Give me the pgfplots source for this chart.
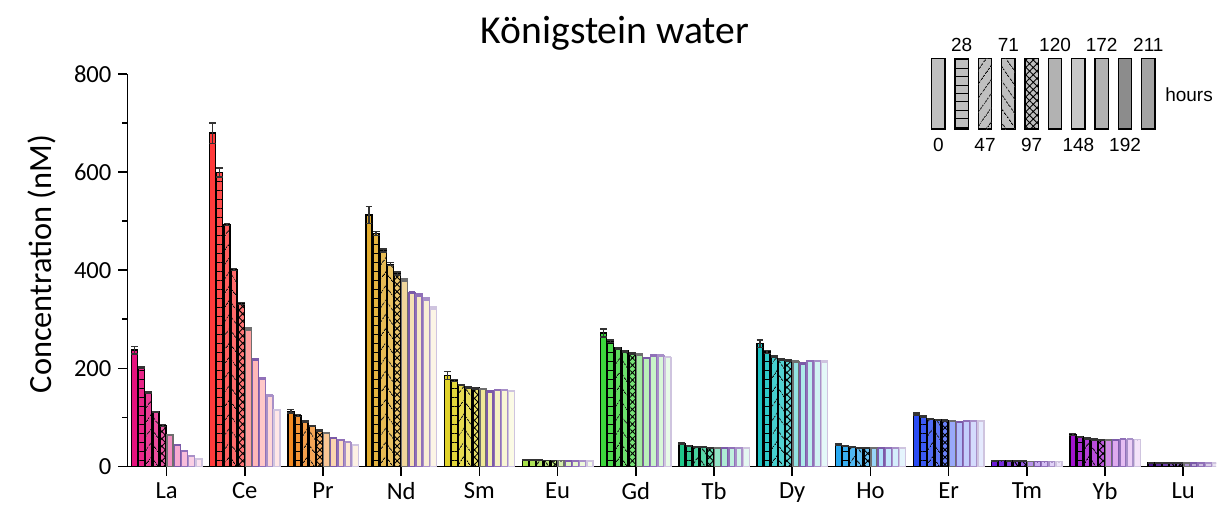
\documentclass[border=0pt]{standalone}
\usepackage{pgfplots}
\pgfplotsset{compat=1.18}
\usepackage{pgfplotstable}
\usetikzlibrary{patterns.meta,calc}
\usepackage{fontspec}
\setmainfont{Carlito}
\newfontfamily\arialfont{Liberation Sans}

% element colours
\definecolor{c0}{HTML}{E6127E}
\definecolor{c1}{HTML}{FF3B3B}
\definecolor{c2}{HTML}{F28A22}
\definecolor{c3}{HTML}{E2AC2E}
\definecolor{c4}{HTML}{E0D229}
\definecolor{c5}{HTML}{A6E04A}
\definecolor{c6}{HTML}{3CD63C}
\definecolor{c7}{HTML}{1FC88A}
\definecolor{c8}{HTML}{1CC4C4}
\definecolor{c9}{HTML}{28A8F0}
\definecolor{c10}{HTML}{2A4CF5}
\definecolor{c11}{HTML}{6A1AD8}
\definecolor{c12}{HTML}{A314D0}
\definecolor{c13}{HTML}{4B1590}
% outlines of the late samples
\definecolor{o5}{HTML}{6E6E6E}
\definecolor{o6}{HTML}{7B5AA8}
\definecolor{o7}{HTML}{9070B8}
\definecolor{o8}{HTML}{A890C8}
\definecolor{o9}{HTML}{CFC4DF}

% columns: element index, value at each sampling time (0,28,47,71,97,120,148,172,192,211 h), errors
\pgfplotstableread{
x  v0    v1    v2    v3    v4    v5    v6    v7    v8    v9    e0  e1  e2  e3  e4  e5  e6  e7  e8  e9
0  237   201   150   111   83.5  64.6  44    31    22    15.6  8   2   1.5 1.5 1.5 1   1   1   1   1
1  679   599   493   401   332   280   218   179   145   115   21  9   2   2   2   2   2   1.5 1   1
2  112.6 104   92    82    73    68    58    54    49.5  44    4   2   1   1   1   1   1   1   1   1
3  512   475   440   412   393   380   355   349.5 341.5 323   17  4   3   3   3   2   2   2   2   2
4  185   175   166   161.5 159.5 157.5 152.7 156   156   153.4 8   2   1.5 1.5 1.5 1   1   1   1   1
5  14    13.5  13    12.5  12    12    11.5  11.5  11.5  11.5  0.5 0.3 0.3 0.3 0.3 0.3 0.3 0.3 0.3 0.3
6  272   255   241   235   229.5 227.5 221   226   226   222.6 8   3   1.5 1.5 1.5 1.5 1.5 1.5 1   1
7  46    42    40    39.5  38    38    37    38    38    38    1.5 1   0.5 0.5 0.5 0.5 0.5 0.5 0.5 0.5
8  250   233.6 224.7 218.6 216.6 213   209   215   214.7 214   8   3   1.5 1.5 1.5 1.5 1.5 1   1   1
9  44    42    40    38.5  38    37.5  37    38    38    38    1.5 1   0.5 0.5 0.5 0.5 0.5 0.5 0.5 0.5
10 107   102.5 97    95    93.7  92.3  91    93    93    93    2   1.5 1   1   1   1   1   1   1   1
11 12    12    11.5  11    11    10.5  10    10    10    10    0.5 0.3 0.3 0.3 0.3 0.3 0.3 0.3 0.3 0.3
12 65    60    57    55    54.3  54    54    55.6  55.6  55    2   1.5 1   1   1   1   0.5 0.5 0.5 0.5
13 8     7.5   7.5   7     7     7     7     7     7     7     0.5 0.3 0.3 0.3 0.3 0.3 0.3 0.3 0.3 0.3
}\data

\pgfplotsset{
  ebar/.style={
    error bars/error bar style={draw=#1, line width=0.7pt},
    error bars/error mark options={rotate=90, mark size=1.7pt, line width=0.7pt, draw=#1}},
  t0/.style={fill=#1, draw=black, ebar=black!80},
  t1/.style={fill=#1!92!white, draw=black, ebar=black!80,
    postaction={pattern={Lines[angle=0,distance=4.5pt,line width=0.5pt]}, pattern color=black}},
  t2/.style={fill=#1!82!white, draw=black, ebar=black!80,
    postaction={pattern={Lines[angle=55,distance=4pt,line width=0.5pt]}, pattern color=black}},
  t3/.style={fill=#1!76!white, draw=black, ebar=black!80,
    postaction={pattern={Lines[angle=-55,distance=4pt,line width=0.5pt]}, pattern color=black}},
  t4/.style={fill=#1!70!white, draw=black, ebar=black!80,
    postaction={pattern={Hatch[angle=45,distance=2.6pt,line width=0.45pt]}, pattern color=black}},
  t5/.style={fill=#1!48!white, draw=o5, ebar=o5},
  t6/.style={fill=#1!36!white, draw=o6, ebar=o6},
  t7/.style={fill=#1!28!white, draw=o7, ebar=o7},
  t8/.style={fill=#1!20!white, draw=o8, ebar=o8},
  t9/.style={fill=#1!12!white, draw=o9, ebar=o9},
}

% one bar: element #1, sampling time #2
\newcommand\onebar[2]{%
  \addplot[t#2=c#1]
    table[x expr=\thisrow{x}+(#2-4.5)*0.0915, y=v#2, y error=e#2,
          restrict expr to domain={\thisrow{x}}{#1:#1}] {\data};
}

\begin{document}
\begin{tikzpicture}
\begin{axis}[
  name=ax,
  scale only axis,
  width=544.25pt, height=196.4pt,
  xmin=-0.5, xmax=13.419, ymin=0, ymax=800,
  axis x line*=bottom, axis y line*=left,
  axis line style={-, line width=0.8pt},
  tick style={line width=0.8pt, black},
  tick align=outside,
  major tick length=4.5pt, minor tick length=2.5pt,
  xtick={0,...,13},
  xticklabels={La,Ce,Pr,Nd,Sm,Eu,Gd,Tb,Dy,Ho,Er,Tm,Yb,Lu},
  ytick={0,200,400,600,800},
  minor ytick={100,300,500,700},
  /pgf/number format/assume math mode=true,
  tick label style={font=\fontsize{12.3}{14}\selectfont},
  title={Königstein water},
  title style={at={(axis description cs:0.4479,1.0459)}, anchor=base,
    font=\fontsize{19.8}{22}\selectfont},
  ylabel={Concentration (nM)},
  ylabel style={at={(axis description cs:-0.0785,0.5155)}, anchor=center,
    font=\fontsize{16.2}{18}\selectfont},
  ybar=0pt, bar width=3pt,
  every axis plot post/.append style={/pgf/bar shift=0pt, line width=0.7pt},
  error bars/y dir=both, error bars/y explicit,
]
\pgfplotsinvokeforeach{0,...,13}{
  \onebar{#1}{0}\onebar{#1}{1}\onebar{#1}{2}\onebar{#1}{3}\onebar{#1}{4}
  \onebar{#1}{5}\onebar{#1}{6}\onebar{#1}{7}\onebar{#1}{8}\onebar{#1}{9}
}
\end{axis}

% inset key of sampling times
\begin{scope}[shift={(ax.south west)}, x=1pt, y=1pt, line width=0.6pt]
  \draw[fill=black!25] (402.1,168.75) rectangle ++(6.67,35.35);
  \draw[fill=black!25, postaction={pattern={Lines[angle=0,distance=4.2pt,line width=0.5pt]}, pattern color=black}]
    (413.77,168.75) rectangle ++(6.67,35.35);
  \draw[fill=black!25, postaction={pattern={Lines[angle=55,distance=4pt,line width=0.45pt]}, pattern color=black}]
    (425.43,168.75) rectangle ++(6.67,35.35);
  \draw[fill=black!25, postaction={pattern={Lines[angle=-55,distance=4pt,line width=0.45pt]}, pattern color=black}]
    (437.1,168.75) rectangle ++(6.67,35.35);
  \draw[fill=black!25, postaction={pattern={Hatch[angle=45,distance=2.6pt,line width=0.45pt]}, pattern color=black}]
    (448.77,168.75) rectangle ++(6.67,35.35);
  \draw[fill=black!30] (460.43,168.75) rectangle ++(6.67,35.35);
  \draw[fill=black!22] (472.1,168.75) rectangle ++(6.67,35.35);
  \draw[fill=black!30] (483.77,168.75) rectangle ++(6.67,35.35);
  \draw[fill=black!45] (495.43,168.75) rectangle ++(6.67,35.35);
  \draw[fill=black!36] (507.1,168.75) rectangle ++(6.67,35.35);
  \begin{scope}[font=\arialfont\fontsize{9.5}{11}\selectfont]
    \node at (417.1,210.75) {28};
    \node at (440.43,210.75) {71};
    \node at (463.77,210.75) {120};
    \node at (487.1,210.75) {172};
    \node at (510.43,210.75) {211};
    \node at (405.43,160.75) {0};
    \node at (428.77,160.75) {47};
    \node at (452.1,160.75) {97};
    \node at (475.43,160.75) {148};
    \node at (498.77,160.75) {192};
    \node at (530.75,185.75) {hours};
  \end{scope}
\end{scope}

\pgfresetboundingbox
\path ($(ax.south west)+(-63.75pt,-19.25pt)$) rectangle ++(609pt,252.5pt);
\end{tikzpicture}
\end{document}
